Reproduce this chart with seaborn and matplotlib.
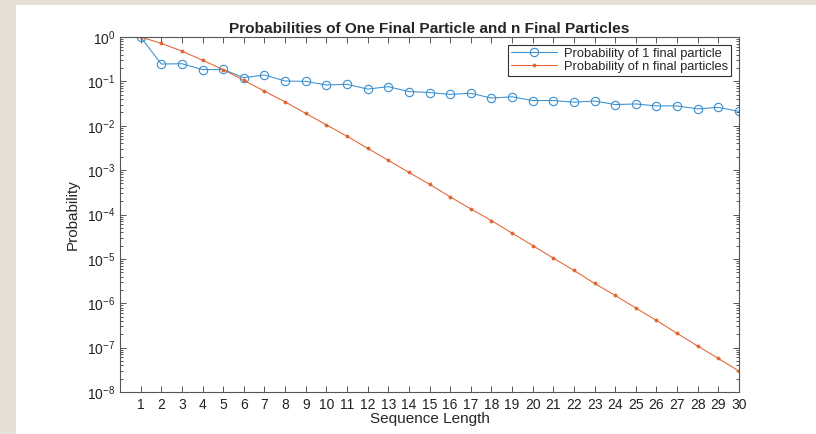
import seaborn as sns
import matplotlib.pyplot as plt
import matplotlib.patches as mpatches
import matplotlib.ticker as mticker
import numpy as np
import pandas as pd

# values
seq_length = list(range(1, 31))
prob_one_final = [1.0, 0.246, 0.25, 0.184, 0.186, 0.121, 0.139, 0.102, 0.100, 0.083,
                  0.086, 0.067, 0.076, 0.059, 0.056, 0.051, 0.054, 0.042, 0.045, 0.037,
                  0.037, 0.034, 0.036, 0.030, 0.031, 0.028, 0.028, 0.024, 0.026, 0.021]
prob_n_final = [1.0, 0.72, 0.48, 0.30, 0.184, 0.106, 0.060, 0.0345, 0.019, 0.0105,
                0.0058, 0.0031, 0.00166, 0.00089, 0.00048, 0.00025, 0.000134, 7.3e-5, 3.8e-5, 2.0e-5,
                1.04e-5, 5.5e-6, 2.8e-6, 1.5e-6, 7.8e-7, 4.1e-7, 2.1e-7, 1.08e-7, 5.7e-8, 2.95e-8]
x_ticks = list(range(1, 31))
y_decades = [1e-8, 1e-7, 1e-6, 1e-5, 1e-4, 1e-3, 1e-2, 1e-1, 1e0]

df = pd.DataFrame({'length': seq_length, 'one': prob_one_final, 'n': prob_n_final})

sns.set_style('ticks')
plt.rcParams['font.family'] = ['Liberation Sans', 'DejaVu Sans']

blue = '#3a8fcf'
orange = '#e0642e'
axis_col = '#555555'

fig = plt.figure(figsize=(8.16, 4.34), dpi=100)
fig.patch.set_facecolor('white')
# beige frame strips on the left and top
fig.patches.append(mpatches.Rectangle((0, 0), 16 / 816, 1, transform=fig.transFigure,
                                      facecolor='#e6dfd5', edgecolor='none', zorder=-1))
fig.patches.append(mpatches.Rectangle((0, 1 - 5 / 434), 1, 5 / 434, transform=fig.transFigure,
                                      facecolor='#e6dfd5', edgecolor='none', zorder=-1))

ax = fig.add_axes([120 / 816, 42 / 434, 619 / 816, 355 / 434])

sns.lineplot(data=df, x='length', y='one', ax=ax, color=blue, lw=0.75, marker='o',
             markersize=6, markerfacecolor='none', markeredgecolor=blue,
             markeredgewidth=0.8, label='Probability of 1 final particle')
sns.lineplot(data=df, x='length', y='n', ax=ax, color=orange, lw=0.75, marker='.',
             markersize=4.5, markerfacecolor=orange, markeredgecolor=orange,
             markeredgewidth=0.5, label='Probability of n final particles')

ax.set_yscale('log')
ax.set_xlim(0, 30)
ax.set_ylim(1e-8, 1)
ax.set_xticks(x_ticks)
ax.set_yticks(y_decades)
ax.yaxis.set_minor_locator(mticker.LogLocator(base=10, subs=np.arange(2, 10), numticks=20))
ax.yaxis.set_minor_formatter(mticker.NullFormatter())

for s in ax.spines.values():
    s.set_visible(True)
    s.set_color(axis_col)
    s.set_linewidth(0.8)
ax.tick_params(which='both', direction='in', top=True, right=True, color=axis_col,
               width=0.7, labelsize=10, labelcolor='#222222')
ax.tick_params(which='major', length=4)
ax.tick_params(which='minor', length=2)
ax.tick_params(axis='x', pad=4)

ax.set_xlabel('Sequence Length', fontsize=11, labelpad=0)
ax.set_ylabel('Probability', fontsize=11, labelpad=5)
ax.set_title('Probabilities of One Final Particle and n Final Particles',
             fontsize=11.1, fontweight='bold', pad=3)

leg = ax.legend(loc='upper right', fontsize=9.3, frameon=True, fancybox=False,
                framealpha=1, edgecolor='#333333', borderpad=0.25, handlelength=3.6,
                labelspacing=0.05, borderaxespad=0.6, handletextpad=0.5)
leg.get_frame().set_linewidth(0.8)

fig.savefig('out.png', dpi=100)
